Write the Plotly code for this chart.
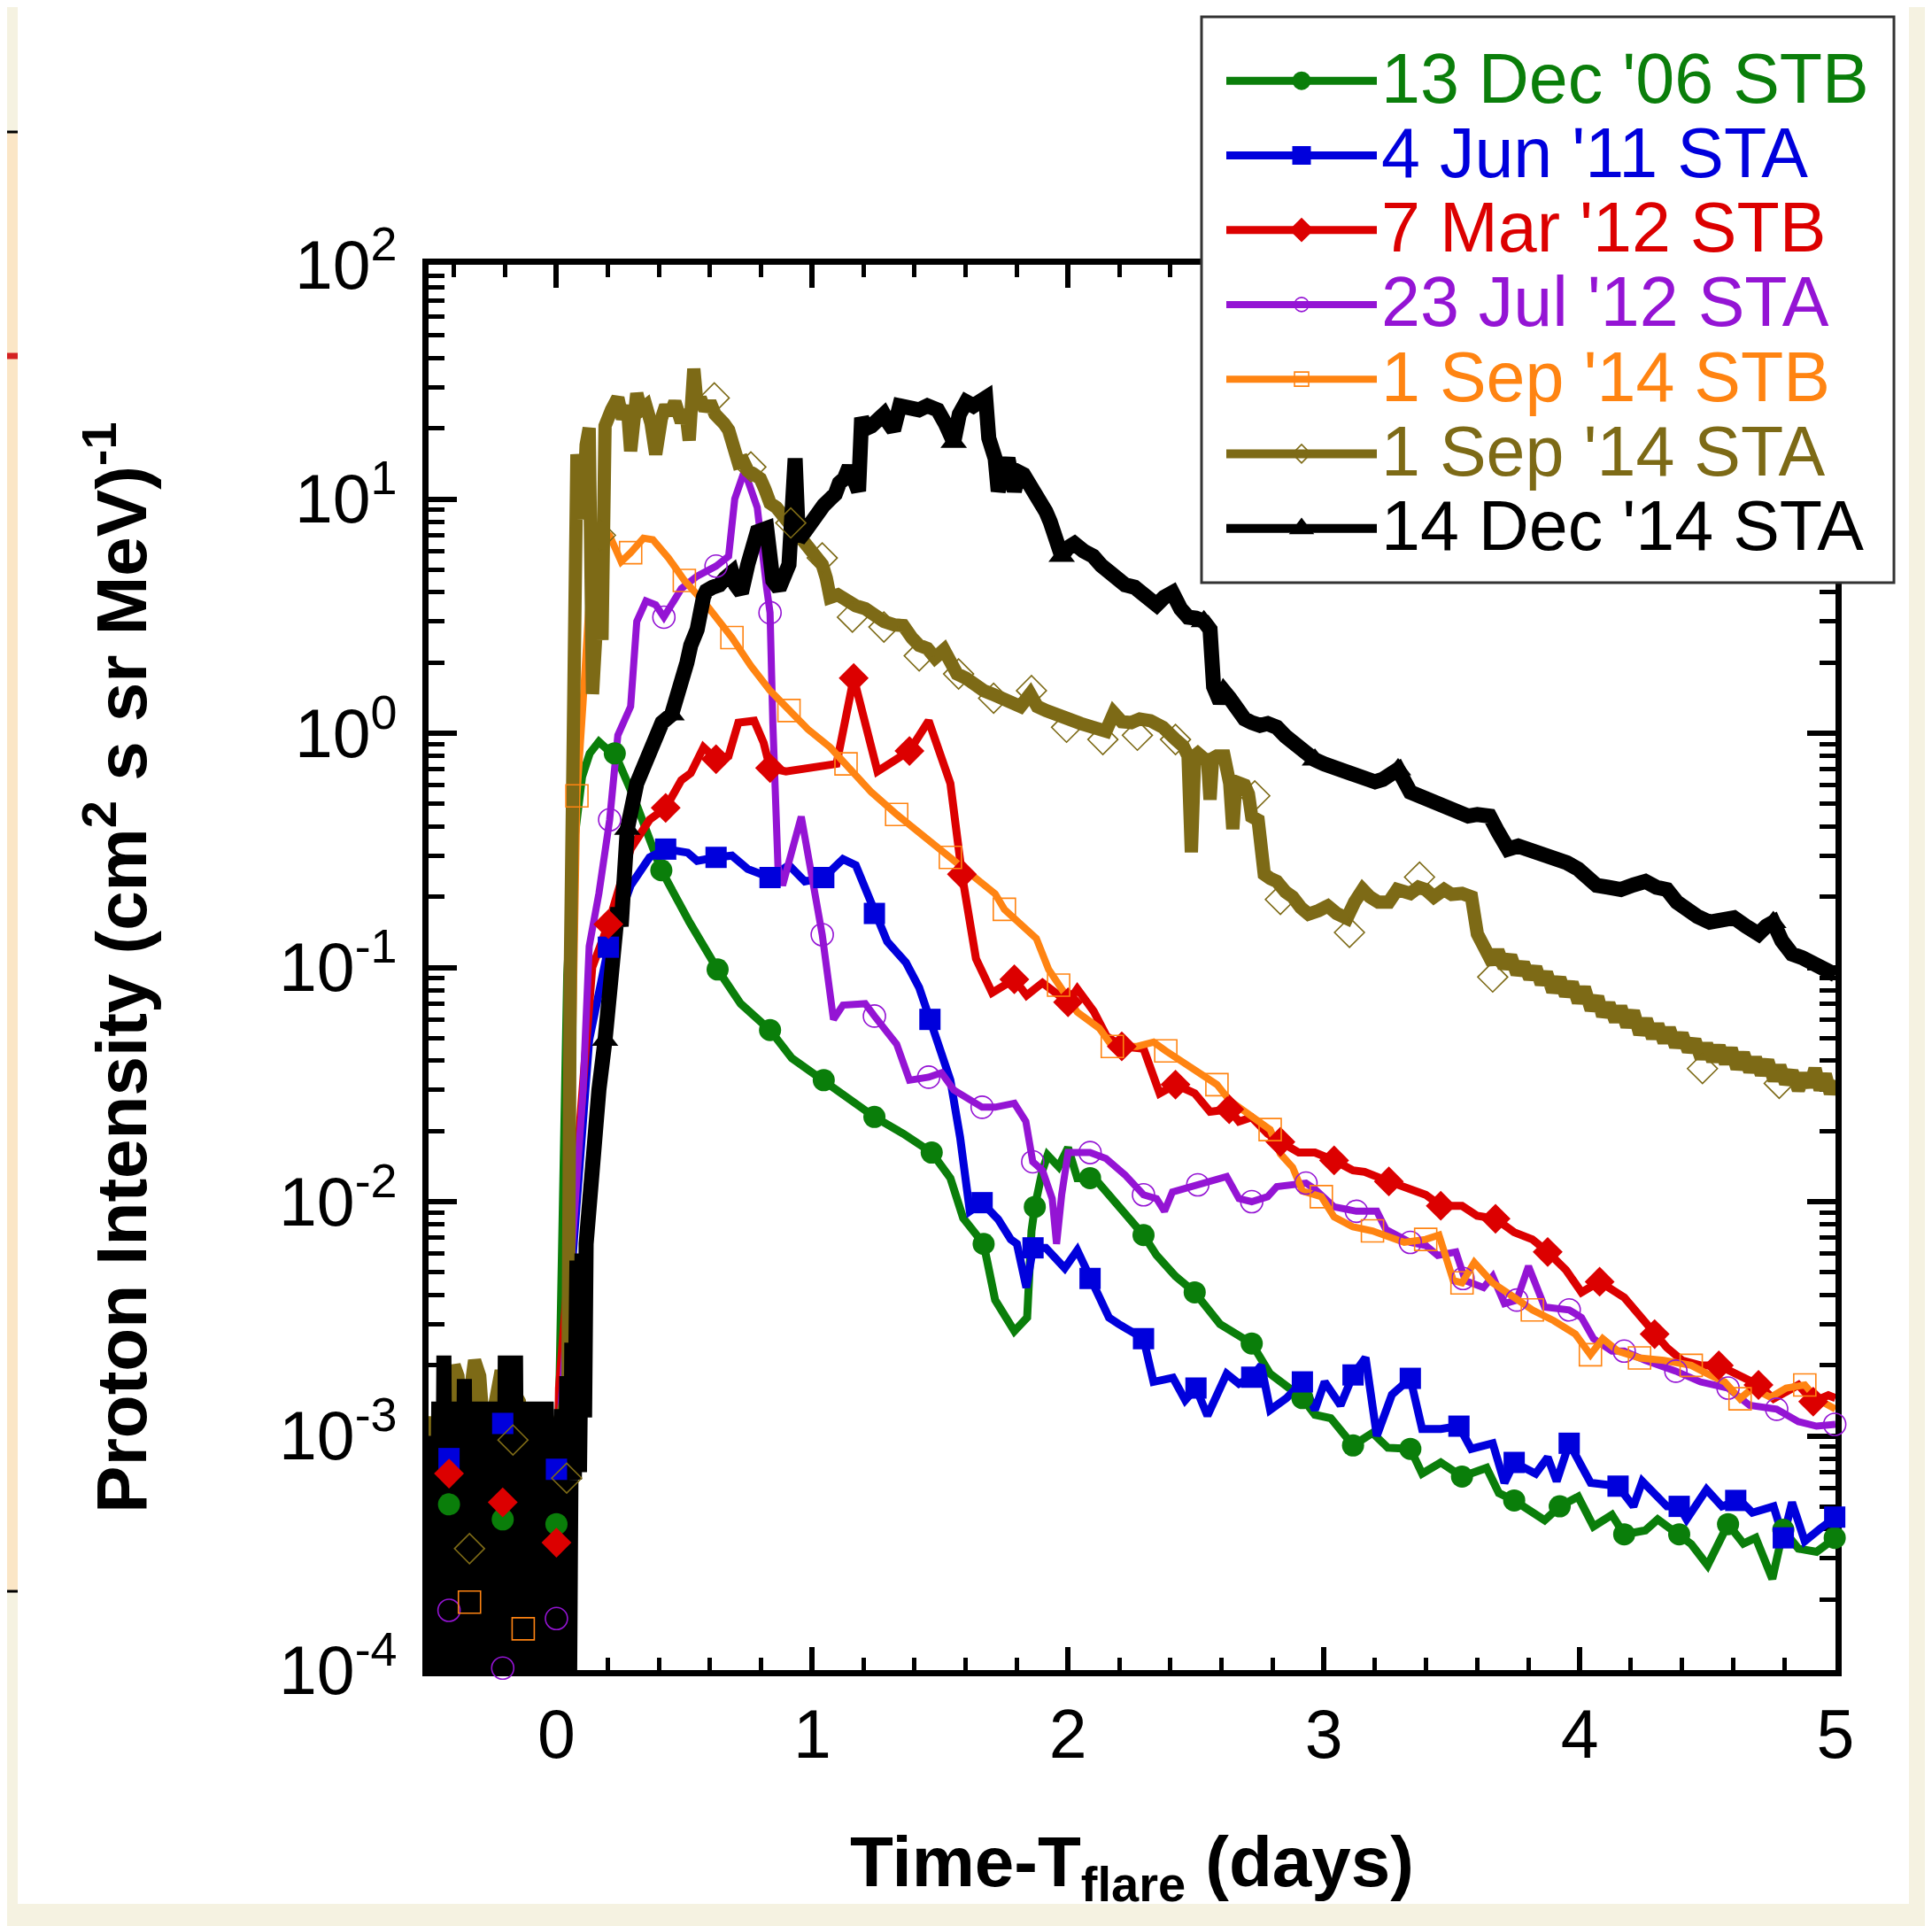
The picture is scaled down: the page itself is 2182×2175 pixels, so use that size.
import plotly.graph_objects as go

# ---------------- colours ----------------
GREEN = "#0a7e0a"
BLUE = "#0000dc"
RED = "#dc0000"
PURPLE = "#9414d4"
ORANGE = "#ff8412"
OLIVE = "#7d6a16"
BLACK = "#000000"

# ---------------- data (days since flare, proton intensity) ----------------
green_x = [-0.50, -0.42, -0.30, -0.21, -0.10, 0.00, 0.01, 0.042, 0.07, 0.10, 0.13, 0.166, 0.20, 0.228, 0.30, 0.364, 0.41, 0.52, 0.63, 0.72, 0.835, 0.92, 1.045, 1.15, 1.243, 1.356, 1.467, 1.54, 1.59, 1.67, 1.715, 1.79, 1.84, 1.857, 1.87, 1.90, 1.92, 1.963, 2.00, 2.036, 2.086, 2.12, 2.20, 2.295, 2.346, 2.42, 2.495, 2.545, 2.594, 2.718, 2.79, 2.916, 2.965, 3.027, 3.114, 3.19, 3.25, 3.338, 3.384, 3.457, 3.54, 3.636, 3.684, 3.744, 3.863, 3.922, 3.994, 4.054, 4.126, 4.174, 4.257, 4.305, 4.389, 4.436, 4.50, 4.58, 4.64, 4.688, 4.753, 4.796, 4.855, 4.926, 5.00]
green_y = [5.0e-4, 5.1e-4, 4.6e-4, 4.4e-4, 4.5e-4, 4.2e-4, 1.3e-3, 9.3e-2, 3.5e-1, 6.5e-1, 8.2e-1, 9.2e-1, 8.5e-1, 8.2e-1, 5.4e-1, 3.6e-1, 2.6e-1, 1.56e-1, 9.8e-2, 7.0e-2, 5.4e-2, 4.1e-2, 3.3e-2, 2.7e-2, 2.3e-2, 1.95e-2, 1.62e-2, 1.26e-2, 8.5e-3, 6.6e-3, 3.8e-3, 2.8e-3, 3.2e-3, 7.5e-3, 9.5e-3, 1.36e-2, 1.58e-2, 1.41e-2, 1.7e-2, 1.26e-2, 1.26e-2, 1.2e-2, 9.5e-3, 7.2e-3, 5.9e-3, 4.8e-3, 4.1e-3, 3.5e-3, 3.0e-3, 2.48e-3, 1.84e-3, 1.45e-3, 1.23e-3, 1.19e-3, 9.1e-4, 1.03e-3, 8.9e-4, 8.8e-4, 6.9e-4, 7.7e-4, 6.7e-4, 7.3e-4, 5.7e-4, 5.3e-4, 4.36e-4, 5.0e-4, 5.5e-4, 4.1e-4, 4.6e-4, 3.8e-4, 3.95e-4, 4.4e-4, 3.8e-4, 3.45e-4, 2.8e-4, 4.2e-4, 3.47e-4, 3.67e-4, 2.45e-4, 3.97e-4, 3.3e-4, 3.2e-4, 3.67e-4]
green_mx = [-0.42, -0.21, 0.0, 0.228, 0.41, 0.63, 0.835, 1.045, 1.243, 1.467, 1.67, 1.87, 2.086, 2.295, 2.495, 2.718, 2.916, 3.114, 3.338, 3.54, 3.744, 3.922, 4.174, 4.389, 4.58, 4.796, 4.997]
green_my = [5.1e-4, 4.4e-4, 4.2e-4, 8.2e-1, 2.6e-1, 9.8e-2, 5.4e-2, 3.3e-2, 2.3e-2, 1.62e-2, 6.6e-3, 9.5e-3, 1.26e-2, 7.2e-3, 4.1e-3, 2.48e-3, 1.45e-3, 9.1e-4, 8.8e-4, 6.7e-4, 5.3e-4, 5.0e-4, 3.8e-4, 3.8e-4, 4.2e-4, 3.97e-4, 3.67e-4]

blue_x = [-0.50, -0.42, -0.30, -0.21, -0.10, 0.00, 0.01, 0.128, 0.203, 0.29, 0.364, 0.427, 0.513, 0.55, 0.624, 0.686, 0.748, 0.835, 0.909, 0.971, 1.045, 1.12, 1.17, 1.243, 1.293, 1.366, 1.418, 1.46, 1.54, 1.578, 1.616, 1.664, 1.727, 1.776, 1.80, 1.837, 1.863, 1.913, 1.987, 2.036, 2.086, 2.16, 2.198, 2.295, 2.334, 2.41, 2.458, 2.50, 2.545, 2.62, 2.668, 2.718, 2.755, 2.79, 2.854, 2.916, 2.965, 3.003, 3.065, 3.114, 3.163, 3.207, 3.266, 3.338, 3.384, 3.457, 3.528, 3.576, 3.66, 3.706, 3.744, 3.828, 3.875, 3.91, 3.959, 4.043, 4.15, 4.21, 4.245, 4.341, 4.389, 4.418, 4.496, 4.556, 4.627, 4.675, 4.758, 4.796, 4.83, 4.88, 4.938, 5.00]
blue_y = [8.0e-4, 8.0e-4, 9.0e-4, 1.13e-3, 9.0e-4, 7.2e-4, 1.0e-3, 4.9e-2, 1.22e-1, 2.24e-1, 2.95e-1, 3.2e-1, 3.09e-1, 2.85e-1, 2.95e-1, 3.0e-1, 2.63e-1, 2.42e-1, 2.73e-1, 2.33e-1, 2.42e-1, 2.9e-1, 2.73e-1, 1.7e-1, 1.29e-1, 1.05e-1, 8.2e-2, 6.0e-2, 3.3e-2, 1.88e-2, 9.1e-3, 9.9e-3, 8.4e-3, 6.9e-3, 6.6e-3, 4.3e-3, 6.35e-3, 6.35e-3, 5.2e-3, 6.2e-3, 4.7e-3, 3.2e-3, 3.0e-3, 2.6e-3, 1.7e-3, 1.77e-3, 1.42e-3, 1.6e-3, 1.22e-3, 1.84e-3, 1.67e-3, 1.78e-3, 2.0e-3, 1.29e-3, 1.45e-3, 1.7e-3, 1.29e-3, 1.7e-3, 1.35e-3, 1.82e-3, 2.16e-3, 1.0e-3, 1.5e-3, 1.76e-3, 1.07e-3, 1.07e-3, 1.1e-3, 8.8e-4, 9.3e-4, 6.3e-4, 7.7e-4, 6.9e-4, 8.1e-4, 6.4e-4, 9.3e-4, 6.3e-4, 6.1e-4, 5.0e-4, 6.4e-4, 5.0e-4, 5.0e-4, 4.4e-4, 5.9e-4, 5.0e-4, 5.3e-4, 4.7e-4, 5.0e-4, 3.67e-4, 5.2e-4, 3.55e-4, 4.0e-4, 4.5e-4]
blue_mx = [-0.42, -0.21, 0.0, 0.203, 0.427, 0.624, 0.835, 1.045, 1.243, 1.46, 1.664, 1.863, 2.086, 2.295, 2.50, 2.718, 2.916, 3.114, 3.338, 3.528, 3.744, 3.959, 4.15, 4.389, 4.61, 4.796, 4.997]
blue_my = [8.0e-4, 1.13e-3, 7.2e-4, 1.22e-1, 3.2e-1, 2.95e-1, 2.42e-1, 2.42e-1, 1.7e-1, 6.0e-2, 9.9e-3, 6.35e-3, 4.7e-3, 2.6e-3, 1.6e-3, 1.78e-3, 1.7e-3, 1.82e-3, 1.76e-3, 1.1e-3, 7.7e-4, 9.3e-4, 6.1e-4, 5.0e-4, 5.3e-4, 3.67e-4, 4.5e-4]

red_x = [-0.50, -0.42, -0.30, -0.21, -0.10, 0.00, 0.01, 0.14, 0.203, 0.29, 0.364, 0.427, 0.488, 0.525, 0.575, 0.624, 0.673, 0.711, 0.773, 0.81, 0.835, 0.897, 1.095, 1.162, 1.255, 1.38, 1.455, 1.54, 1.585, 1.64, 1.703, 1.79, 1.838, 1.90, 2.00, 2.036, 2.10, 2.15, 2.21, 2.295, 2.358, 2.42, 2.495, 2.555, 2.63, 2.668, 2.718, 2.78, 2.83, 2.902, 2.965, 3.04, 3.114, 3.159, 3.254, 3.325, 3.398, 3.457, 3.54, 3.599, 3.671, 3.744, 3.815, 3.875, 3.947, 4.007, 4.078, 4.174, 4.234, 4.293, 4.341, 4.40, 4.472, 4.544, 4.627, 4.699, 4.758, 4.855, 4.913, 4.972, 5.00]
red_y = [6.0e-4, 6.9e-4, 6.0e-4, 5.2e-4, 4.5e-4, 3.5e-4, 1.6e-3, 1.0e-1, 1.53e-1, 3.2e-1, 4.27e-1, 4.8e-1, 6.3e-1, 6.75e-1, 8.7e-1, 7.75e-1, 8.0e-1, 1.11, 1.13, 9.1e-1, 7.1e-1, 6.87e-1, 7.4e-1, 1.72, 6.87e-1, 8.4e-1, 1.13, 6.1e-1, 2.5e-1, 1.09e-1, 7.8e-2, 8.9e-2, 7.6e-2, 8.6e-2, 7.1e-2, 8.1e-2, 6.5e-2, 5.1e-2, 4.6e-2, 4.5e-2, 2.9e-2, 3.16e-2, 2.9e-2, 2.42e-2, 2.48e-2, 2.2e-2, 2.29e-2, 1.95e-2, 1.8e-2, 1.62e-2, 1.62e-2, 1.5e-2, 1.36e-2, 1.34e-2, 1.22e-2, 1.14e-2, 1.07e-2, 9.6e-3, 9.6e-3, 8.7e-3, 8.45e-3, 7.4e-3, 6.9e-3, 6.1e-3, 5.1e-3, 4.1e-3, 4.55e-3, 3.9e-3, 3.3e-3, 2.72e-3, 2.38e-3, 2.1e-3, 2.0e-3, 2.0e-3, 1.82e-3, 1.65e-3, 1.44e-3, 1.65e-3, 1.4e-3, 1.49e-3, 1.45e-3]
red_mx = [-0.42, -0.21, 0.0, 0.203, 0.427, 0.624, 0.835, 1.162, 1.38, 1.585, 1.79, 2.0, 2.21, 2.42, 2.63, 2.83, 3.04, 3.254, 3.457, 3.671, 3.875, 4.078, 4.293, 4.544, 4.699, 4.913]
red_my = [6.9e-4, 5.2e-4, 3.5e-4, 1.53e-1, 4.8e-1, 7.75e-1, 7.1e-1, 1.72, 8.4e-1, 2.5e-1, 8.9e-2, 7.1e-2, 4.6e-2, 3.16e-2, 2.48e-2, 1.8e-2, 1.5e-2, 1.22e-2, 9.6e-3, 8.45e-3, 6.1e-3, 4.55e-3, 2.72e-3, 2.0e-3, 1.65e-3, 1.4e-3]

purple_x = [-0.50, -0.42, -0.30, -0.21, -0.10, 0.00, 0.01, 0.104, 0.128, 0.166, 0.208, 0.24, 0.29, 0.314, 0.35, 0.388, 0.42, 0.488, 0.55, 0.624, 0.673, 0.697, 0.735, 0.785, 0.822, 0.835, 0.846, 0.866, 0.884, 0.957, 1.039, 1.083, 1.12, 1.207, 1.243, 1.33, 1.38, 1.455, 1.505, 1.553, 1.664, 1.715, 1.79, 1.835, 1.862, 1.90, 1.938, 1.955, 1.975, 2.00, 2.086, 2.148, 2.223, 2.295, 2.346, 2.377, 2.408, 2.507, 2.62, 2.668, 2.718, 2.78, 2.816, 2.93, 2.965, 3.04, 3.127, 3.207, 3.243, 3.338, 3.398, 3.445, 3.516, 3.553, 3.624, 3.66, 3.706, 3.754, 3.80, 3.863, 3.959, 4.007, 4.054, 4.126, 4.174, 4.257, 4.376, 4.472, 4.58, 4.664, 4.77, 4.855, 4.926, 5.00]
purple_y = [1.5e-4, 1.8e-4, 1.3e-4, 1.02e-4, 1.4e-4, 1.66e-4, 1.0e-3, 3.0e-2, 1.23e-1, 2.07e-1, 4.27e-1, 9.8e-1, 1.3, 3.0, 3.67, 3.53, 3.13, 4.14, 4.68, 5.17, 5.7, 10.0, 13.2, 9.2, 4.14, 3.27, 1.1, 2.7e-1, 2.24e-1, 4.4e-1, 1.38e-1, 6.0e-2, 6.9e-2, 7.0e-2, 6.2e-2, 4.7e-2, 3.3e-2, 3.4e-2, 3.55e-2, 3.0e-2, 2.53e-2, 2.53e-2, 2.63e-2, 2.2e-2, 1.48e-2, 1.36e-2, 1.03e-2, 6.6e-3, 1.07e-2, 1.62e-2, 1.62e-2, 1.53e-2, 1.3e-2, 1.07e-2, 1.03e-2, 9.1e-3, 1.1e-2, 1.18e-2, 1.28e-2, 1.03e-2, 1.0e-2, 1.05e-2, 1.16e-2, 1.2e-2, 1.13e-2, 9.5e-3, 9.1e-3, 9.1e-3, 7.6e-3, 6.7e-3, 6.5e-3, 5.9e-3, 6.1e-3, 4.6e-3, 4.3e-3, 4.8e-3, 3.67e-3, 3.8e-3, 5.3e-3, 3.55e-3, 3.45e-3, 3.2e-3, 2.6e-3, 2.3e-3, 2.3e-3, 2.1e-3, 1.89e-3, 1.7e-3, 1.6e-3, 1.35e-3, 1.3e-3, 1.15e-3, 1.1e-3, 1.12e-3]
purple_mx = [-0.42, -0.21, 0.0, 0.208, 0.42, 0.624, 0.835, 1.039, 1.243, 1.455, 1.664, 1.862, 2.086, 2.295, 2.507, 2.718, 2.93, 3.127, 3.338, 3.544, 3.754, 3.959, 4.174, 4.376, 4.58, 4.77, 4.997]
purple_my = [1.8e-4, 1.02e-4, 1.66e-4, 4.27e-1, 3.13, 5.17, 3.27, 1.38e-1, 6.2e-2, 3.4e-2, 2.53e-2, 1.48e-2, 1.62e-2, 1.07e-2, 1.18e-2, 1.0e-2, 1.2e-2, 9.1e-3, 6.7e-3, 4.7e-3, 3.8e-3, 3.45e-3, 2.3e-3, 1.89e-3, 1.6e-3, 1.3e-3, 1.12e-3]

orange_x = [-0.50, -0.42, -0.34, -0.25, -0.13, -0.05, 0.00, 0.04, 0.08, 0.104, 0.128, 0.16, 0.19, 0.208, 0.253, 0.29, 0.34, 0.377, 0.438, 0.50, 0.586, 0.686, 0.76, 0.835, 0.909, 0.983, 1.07, 1.132, 1.231, 1.33, 1.418, 1.54, 1.628, 1.715, 1.751, 1.876, 1.924, 1.963, 2.036, 2.122, 2.173, 2.27, 2.334, 2.382, 2.469, 2.53, 2.582, 2.632, 2.705, 2.79, 2.83, 2.878, 2.916, 2.99, 3.04, 3.114, 3.19, 3.23, 3.314, 3.398, 3.45, 3.506, 3.54, 3.588, 3.66, 3.744, 3.815, 3.899, 3.983, 4.042, 4.09, 4.15, 4.234, 4.329, 4.436, 4.508, 4.567, 4.627, 4.675, 4.746, 4.807, 4.88, 4.926, 5.00]
orange_y = [1.8e-4, 2.2e-4, 1.95e-4, 1.7e-4, 1.5e-4, 1.8e-4, 2.0e-4, 1.7e-3, 5.4e-1, 1.35, 3.68, 6.2, 7.2, 6.97, 5.4, 5.9, 6.8, 6.7, 5.6, 4.49, 3.53, 2.56, 1.94, 1.52, 1.25, 1.04, 8.7e-1, 7.4e-1, 5.6e-1, 4.5e-1, 3.77e-1, 2.95e-1, 2.5e-1, 2.06e-1, 1.77e-1, 1.33e-1, 9.8e-2, 8.4e-2, 6.45e-2, 5.5e-2, 4.6e-2, 4.6e-2, 4.8e-2, 4.4e-2, 3.8e-2, 3.4e-2, 3.16e-2, 2.7e-2, 2.38e-2, 2.03e-2, 1.6e-2, 1.4e-2, 1.11e-2, 1.05e-2, 8.6e-3, 7.8e-3, 7.5e-3, 7.2e-3, 6.7e-3, 6.9e-3, 7.2e-3, 4.6e-3, 4.5e-3, 5.5e-3, 4.5e-3, 3.9e-3, 3.45e-3, 3.1e-3, 2.72e-3, 2.22e-3, 2.6e-3, 2.3e-3, 2.15e-3, 2.1e-3, 2.0e-3, 1.82e-3, 1.7e-3, 1.44e-3, 1.6e-3, 1.46e-3, 1.6e-3, 1.65e-3, 1.44e-3, 1.3e-3]
orange_mx = [-0.34, -0.13, 0.08, 0.29, 0.50, 0.686, 0.909, 1.132, 1.33, 1.54, 1.751, 1.963, 2.173, 2.382, 2.582, 2.79, 2.99, 3.19, 3.398, 3.54, 3.815, 4.042, 4.234, 4.436, 4.627, 4.88]
orange_my = [1.95e-4, 1.5e-4, 5.4e-1, 5.9, 4.49, 2.56, 1.25, 7.4e-1, 4.5e-1, 2.95e-1, 1.77e-1, 8.4e-2, 4.6e-2, 4.4e-2, 3.16e-2, 2.03e-2, 1.05e-2, 7.5e-3, 6.9e-3, 4.5e-3, 3.45e-3, 2.22e-3, 2.15e-3, 2.0e-3, 1.44e-3, 1.65e-3]

olive_x = [-0.50, -0.48, -0.46, -0.44, -0.42, -0.40, -0.385, -0.37, -0.35, -0.32, -0.30, -0.28, -0.25, -0.22, -0.20, -0.18, -0.16, -0.145, -0.13, -0.10, -0.06, -0.03, 0.00, 0.03, 0.045, 0.054, 0.066, 0.08, 0.092, 0.104, 0.116, 0.128, 0.141, 0.153, 0.166, 0.178, 0.19, 0.215, 0.24, 0.258, 0.277, 0.29, 0.314, 0.33, 0.35, 0.37, 0.388, 0.41, 0.427, 0.445, 0.463, 0.488, 0.505, 0.519, 0.537, 0.55, 0.562, 0.58, 0.60, 0.62, 0.637, 0.655, 0.673, 0.69, 0.711, 0.73, 0.748, 0.77, 0.797, 0.815, 0.835, 0.86, 0.884, 0.91, 0.933, 0.96, 0.983, 1.01, 1.039, 1.055, 1.07, 1.10, 1.132, 1.17, 1.207, 1.24, 1.28, 1.32, 1.356, 1.39, 1.418, 1.45, 1.48, 1.515, 1.54, 1.566, 1.60, 1.64, 1.67, 1.703, 1.735, 1.765, 1.79, 1.814, 1.852, 1.88, 1.913, 1.95, 2.00, 2.05, 2.098, 2.148, 2.179, 2.21, 2.247, 2.28, 2.322, 2.371, 2.42, 2.45, 2.469, 2.482, 2.495, 2.507, 2.53, 2.545, 2.555, 2.565, 2.582, 2.61, 2.632, 2.644, 2.656, 2.668, 2.69, 2.705, 2.718, 2.743, 2.767, 2.79, 2.816, 2.85, 2.878, 2.91, 2.94, 2.98, 3.015, 3.05, 3.09, 3.12, 3.152, 3.18, 3.213, 3.254, 3.287, 3.338, 3.37, 3.398, 3.43, 3.47, 3.50, 3.54, 3.577, 3.60, 3.636, 3.66, 3.68, 3.705, 3.73, 3.755, 3.78, 3.805, 3.828, 3.85, 3.87, 3.895, 3.922, 3.945, 3.97, 3.995, 4.018, 4.045, 4.07, 4.09, 4.114, 4.14, 4.16, 4.185, 4.21, 4.235, 4.26, 4.285, 4.305, 4.33, 4.35, 4.375, 4.40, 4.425, 4.45, 4.475, 4.496, 4.52, 4.545, 4.57, 4.592, 4.615, 4.64, 4.665, 4.687, 4.71, 4.735, 4.76, 4.782, 4.805, 4.83, 4.855, 4.879, 4.90, 4.92, 4.94, 4.96, 4.98, 5.00]
olive_y = [9e-4, 1.2e-3, 8e-4, 1.3e-3, 1.0e-3, 2.0e-3, 1.8e-3, 1.0e-3, 1.2e-3, 2.1e-3, 1.8e-3, 9e-4, 1.2e-3, 1.8e-3, 1.8e-3, 1.0e-3, 1.5e-3, 1.4e-3, 1.0e-3, 1.1e-3, 9e-4, 1.0e-3, 1.1e-3, 1.3e-3, 1.6e-3, 9.3e-2, 2.0, 15.5, 12.0, 8.2, 17.0, 20.1, 1.47, 3.5, 4.5, 2.5, 20.5, 24.0, 27.0, 22.0, 25.0, 16.0, 28.2, 24.0, 25.0, 21.0, 15.5, 22.0, 25.0, 23.0, 26.0, 21.3, 24.0, 17.8, 36.0, 25.0, 27.0, 24.0, 26.0, 23.0, 22.2, 21.0, 19.7, 17.0, 14.3, 14.5, 13.2, 12.8, 12.2, 11.0, 9.6, 9.2, 8.5, 7.9, 7.25, 6.8, 6.2, 5.8, 5.25, 4.6, 3.8, 3.9, 3.67, 3.5, 3.4, 3.2, 3.0, 2.9, 2.88, 2.55, 2.37, 2.3, 2.1, 2.27, 1.95, 1.79, 1.72, 1.58, 1.52, 1.47, 1.42, 1.36, 1.33, 1.3, 1.47, 1.3, 1.25, 1.2, 1.15, 1.1, 1.06, 1.02, 1.22, 1.12, 1.11, 1.15, 1.13, 1.06, 0.94, 0.88, 0.80, 0.31, 0.80, 0.82, 0.78, 0.77, 0.52, 0.78, 0.80, 0.80, 0.61, 0.39, 0.62, 0.61, 0.60, 0.55, 0.44, 0.425, 0.25, 0.24, 0.233, 0.21, 0.20, 0.18, 0.169, 0.175, 0.183, 0.17, 0.162, 0.19, 0.215, 0.20, 0.19, 0.19, 0.215, 0.207, 0.22, 0.215, 0.20, 0.215, 0.205, 0.207, 0.20, 0.139, 0.120, 0.104, 0.118, 0.100, 0.112, 0.094, 0.104, 0.090, 0.100, 0.085, 0.095, 0.079, 0.090, 0.076, 0.086, 0.071, 0.082, 0.066, 0.075, 0.062, 0.070, 0.059, 0.068, 0.056, 0.065, 0.052, 0.060, 0.050, 0.057, 0.048, 0.055, 0.046, 0.052, 0.044, 0.049, 0.041, 0.047, 0.040, 0.046, 0.039, 0.045, 0.037, 0.043, 0.036, 0.041, 0.035, 0.040, 0.033, 0.038, 0.032, 0.036, 0.030, 0.035, 0.031, 0.037, 0.030, 0.035, 0.029, 0.033]
olive_mx = [-0.34, -0.17, 0.04, 0.172, 0.617, 0.76, 0.916, 1.039, 1.157, 1.28, 1.418, 1.572, 1.709, 1.857, 1.994, 2.136, 2.271, 2.42, 2.73, 2.83, 3.10, 3.374, 3.66, 4.48, 4.78]
olive_my = [3.3e-4, 9.6e-4, 6.6e-4, 7.0, 27.0, 13.7, 7.9, 5.6, 3.13, 2.84, 2.14, 1.79, 1.41, 1.52, 1.06, 0.94, 0.98, 0.94, 0.54, 0.195, 0.141, 0.243, 0.091, 0.037, 0.032]

black_x = [-0.50, -0.49, -0.48, -0.47, -0.46, -0.45, -0.44, -0.43, -0.42, -0.41, -0.40, -0.39, -0.38, -0.37, -0.36, -0.35, -0.34, -0.33, -0.32, -0.31, -0.30, -0.29, -0.28, -0.27, -0.26, -0.25, -0.24, -0.23, -0.22, -0.21, -0.20, -0.19, -0.18, -0.17, -0.16, -0.15, -0.14, -0.13, -0.12, -0.11, -0.10, -0.09, -0.08, -0.07, -0.06, -0.05, -0.04, -0.03, -0.02, -0.01, 0.00, 0.01, 0.02, 0.03, 0.04, 0.05, 0.06, 0.07, 0.08, 0.09, 0.10, 0.11, 0.116, 0.13, 0.141, 0.155, 0.166, 0.19, 0.215, 0.24, 0.253, 0.277, 0.314, 0.34, 0.364, 0.39, 0.413, 0.45, 0.47, 0.488, 0.51, 0.525, 0.55, 0.575, 0.586, 0.61, 0.637, 0.66, 0.686, 0.70, 0.723, 0.748, 0.765, 0.785, 0.822, 0.846, 0.87, 0.909, 0.933, 0.946, 0.971, 1.00, 1.02, 1.045, 1.07, 1.09, 1.106, 1.125, 1.144, 1.165, 1.181, 1.193, 1.21, 1.231, 1.255, 1.28, 1.30, 1.318, 1.342, 1.38, 1.417, 1.45, 1.49, 1.52, 1.553, 1.575, 1.602, 1.63, 1.653, 1.678, 1.69, 1.715, 1.727, 1.745, 1.765, 1.79, 1.808, 1.826, 1.85, 1.876, 1.90, 1.913, 1.93, 1.95, 1.975, 2.00, 2.025, 2.06, 2.098, 2.13, 2.16, 2.19, 2.223, 2.26, 2.295, 2.32, 2.346, 2.375, 2.408, 2.44, 2.469, 2.50, 2.531, 2.555, 2.569, 2.594, 2.612, 2.632, 2.65, 2.668, 2.69, 2.718, 2.75, 2.78, 2.816, 2.85, 2.878, 2.92, 2.965, 3.00, 3.04, 3.08, 3.114, 3.15, 3.20, 3.23, 3.26, 3.29, 3.338, 3.38, 3.422, 3.46, 3.493, 3.53, 3.564, 3.60, 3.648, 3.68, 3.72, 3.76, 3.804, 3.85, 3.899, 3.95, 3.994, 4.03, 4.066, 4.11, 4.161, 4.21, 4.257, 4.30, 4.341, 4.38, 4.413, 4.46, 4.508, 4.55, 4.603, 4.65, 4.699, 4.73, 4.757, 4.79, 4.83, 4.87, 4.902, 4.94, 4.972, 5.00]
black_y = [1.0e-3, 5e-5, 1.0e-3, 5e-5, 1.4e-3, 5e-5, 2.2e-3, 5e-5, 1.4e-3, 5e-5, 1.4e-3, 5e-5, 1.4e-3, 5e-5, 1.75e-3, 5e-5, 1.4e-3, 5e-5, 1.4e-3, 5e-5, 1.4e-3, 5e-5, 1.4e-3, 5e-5, 1.4e-3, 5e-5, 1.4e-3, 5e-5, 1.4e-3, 5e-5, 2.2e-3, 5e-5, 1.4e-3, 5e-5, 2.2e-3, 5e-5, 1.4e-3, 5e-5, 1.4e-3, 5e-5, 1.1e-3, 5e-5, 1.4e-3, 5e-5, 1.1e-3, 5e-5, 1.4e-3, 5e-5, 1.2e-3, 5e-5, 1.1e-3, 5e-5, 1.3e-3, 5e-5, 1.8e-3, 5e-5, 2.5e-3, 6.5e-4, 5.6e-3, 7.0e-4, 6.0e-3, 1.2e-3, 6.6e-3, 1.2e-2, 1.74e-2, 2.2e-2, 3.0e-2, 4.9e-2, 8.2e-2, 1.8e-1, 1.5e-1, 3.9e-1, 6.1e-1, 7.0e-1, 8.0e-1, 9.5e-1, 1.11, 1.2, 1.4, 1.58, 2.0, 2.37, 2.77, 3.82, 4.05, 4.2, 4.3, 4.6, 4.86, 4.3, 3.98, 5.25, 6.5, 7.25, 7.5, 4.49, 4.14, 5.25, 14.9, 6.7, 7.25, 8.2, 8.85, 9.4, 10.0, 10.5, 11.7, 12.2, 13.7, 11.5, 10.8, 22.2, 20.0, 20.5, 22.0, 23.0, 21.0, 19.7, 25.0, 24.0, 24.0, 25.0, 24.0, 21.0, 17.5, 23.0, 26.0, 25.0, 26.0, 27.0, 18.2, 14.9, 10.8, 13.0, 14.9, 10.8, 13.0, 12.7, 11.5, 10.8, 9.5, 8.85, 8.0, 6.97, 5.7, 6.2, 6.45, 6.0, 5.7, 5.2, 4.86, 4.6, 4.3, 4.2, 3.98, 3.7, 3.53, 3.8, 3.98, 3.4, 3.13, 3.1, 3.0, 2.77, 1.58, 1.36, 1.5, 1.41, 1.3, 1.2, 1.15, 1.11, 1.08, 1.1, 1.06, 0.97, 0.91, 0.84, 0.77, 0.74, 0.71, 0.68, 0.66, 0.63, 0.62, 0.635, 0.67, 0.70, 0.56, 0.54, 0.52, 0.50, 0.48, 0.46, 0.443, 0.45, 0.443, 0.38, 0.32, 0.33, 0.32, 0.31, 0.297, 0.28, 0.263, 0.24, 0.224, 0.22, 0.215, 0.225, 0.233, 0.22, 0.215, 0.19, 0.177, 0.165, 0.156, 0.16, 0.163, 0.15, 0.139, 0.15, 0.156, 0.13, 0.114, 0.11, 0.105, 0.10, 0.097, 0.093]
black_mx = [0.19, 0.277, 0.45, 1.553, 1.975, 2.531, 2.965, 3.29, 4.757]
black_my = [4.9e-2, 3.9e-1, 1.2, 17.5, 5.7, 3.0, 0.77, 0.70, 0.156]

series = [
    ("13 Dec '06 STB", GREEN, green_x, green_y, green_mx, green_my, "circle", 25, 9),
    ("4 Jun '11 STA", BLUE, blue_x, blue_y, blue_mx, blue_my, "square", 24, 9),
    ("7 Mar '12 STB", RED, red_x, red_y, red_mx, red_my, "diamond", 26, 9),
    ("23 Jul '12 STA", PURPLE, purple_x, purple_y, purple_mx, purple_my, "circle-open", 25, 8),
    ("1 Sep '14 STB", ORANGE, orange_x, orange_y, orange_mx, orange_my, "square-open", 25, 8),
    ("1 Sep '14 STA", OLIVE, olive_x, olive_y, olive_mx, olive_my, "diamond-open", 26, 15),
    ("14 Dec '14 STA", BLACK, black_x, black_y, black_mx, black_my, "triangle-up", 26, 17),
]
for s in series:
    assert len(s[2]) == len(s[3]), (s[0], len(s[2]), len(s[3]))
    assert len(s[4]) == len(s[5]), (s[0], len(s[4]), len(s[5]))

fig = go.Figure()

# lines first (in legend order, later ones on top)
for name, col, x, y, mx, my, sym, ms, lw in series:
    fig.add_trace(go.Scatter(x=x, y=y, mode="lines", line=dict(color=col, width=lw),
                             showlegend=False, hoverinfo="skip"))

# markers above every line
for name, col, x, y, mx, my, sym, ms, lw in series:
    is_open = sym.endswith("open")
    fig.add_trace(go.Scatter(x=mx, y=my, mode="markers", cliponaxis=False,
                             marker=dict(symbol=sym, size=ms, color=col,
                                         line=dict(color=col, width=1.6 if is_open else 0)),
                             showlegend=False, hoverinfo="skip"))

# legend entries
for name, col, x, y, mx, my, sym, ms, lw in series:
    is_open = sym.endswith("open")
    fig.add_trace(go.Scatter(x=[None], y=[None], mode="lines+markers",
                             name=f'<span style="color:{col};font-size:79px">{name}</span>',
                             line=dict(color=col, width=min(lw, 10)),
                             marker=dict(symbol=sym, size=16, color=col,
                                         line=dict(color=col, width=1.6 if is_open else 5))))

FONT = "Liberation Sans, Arial, sans-serif"
# page offset of 8 px (default body margin) is compensated in the margins
OFF = 8
PL, PT = 484, 299            # plot area left / top on the page
PW, PH = 1589, 1587          # plot area size
W, H = 2182 - OFF, 2175 - OFF
L, T = PL - OFF, PT - OFF
R, B = W - L - PW, H - T - PH


def px(X):
    return (X - PL) / PW


def py(Y):
    return (PT + PH - Y) / PH


shapes = [
    dict(type="rect", xref="paper", yref="paper", x0=px(20), x1=px(2156), y0=py(2150), y1=py(4),
         fillcolor="white", line=dict(width=0), layer="below"),
    dict(type="rect", xref="paper", yref="paper", x0=px(0), x1=px(20), y0=py(1797), y1=py(149),
         fillcolor="#fbe6c6", line=dict(width=0), layer="below"),
    dict(type="line", xref="paper", yref="paper", x0=px(0), x1=px(20), y0=py(149), y1=py(149),
         line=dict(color="black", width=3), layer="below"),
    dict(type="line", xref="paper", yref="paper", x0=px(0), x1=px(20), y0=py(1797), y1=py(1797),
         line=dict(color="black", width=3), layer="below"),
    dict(type="line", xref="paper", yref="paper", x0=px(0), x1=px(20), y0=py(402), y1=py(402),
         line=dict(color="#d42222", width=7), layer="below"),
    # legend frame
    dict(type="rect", xref="paper", yref="paper", x0=px(1357), x1=px(2139), y0=py(658), y1=py(19),
         fillcolor="white", line=dict(color="#333333", width=3), layer="above"),
]

fig.update_layout(
    width=W, height=H,
    margin=dict(l=L, r=R, t=T, b=B, pad=0, autoexpand=False),
    paper_bgcolor="#f5f2e1",
    plot_bgcolor="white",
    font=dict(family=FONT, size=76, color="black"),
    shapes=shapes,
    showlegend=True,
    legend=dict(x=px(1380), y=py(44), xanchor="left", yanchor="top",
                bgcolor="rgba(0,0,0,0)", borderwidth=0,
                font=dict(family=FONT, size=62.5), itemwidth=170,
                tracegroupgap=0, traceorder="normal"),
)

x_minor = [v / 10 for v in range(-4, 50, 2) if v % 10 != 0]
fig.update_xaxes(
    range=[-0.5, 5], tickmode="array", tickvals=[0, 1, 2, 3, 4, 5],
    ticks="inside", ticklen=26, tickwidth=6, tickcolor="black",
    showline=True, linewidth=7, linecolor="black", mirror="ticks",
    showgrid=False, zeroline=False, layer="below traces",
    tickfont=dict(family=FONT, size=77, color="black"),
    minor=dict(tickmode="array", tickvals=x_minor, ticks="inside", ticklen=14,
               tickwidth=5, tickcolor="black", showgrid=False),
    title=dict(text="<b>Time-T<sub>flare</sub> (days)</b>", font=dict(family=FONT, size=80),
               standoff=76),
    automargin=False,
)

y_major = [1e-4, 1e-3, 1e-2, 1e-1, 1e0, 1e1, 1e2]
y_text = ["10<sup>-4</sup>", "10<sup>-3</sup>", "10<sup>-2</sup>", "10<sup>-1</sup>",
          "10<sup>0</sup>", "10<sup>1</sup>", "10<sup>2</sup>"]
y_minor = [m * 10.0 ** e for e in range(-4, 2) for m in range(2, 10)]
fig.update_yaxes(
    type="log", range=[-4, 2], tickmode="array", tickvals=y_major, ticktext=y_text,
    ticks="inside", ticklen=32, tickwidth=6, tickcolor="black",
    showline=True, linewidth=7, linecolor="black", mirror="ticks",
    showgrid=False, zeroline=False, layer="below traces",
    tickfont=dict(family=FONT, size=77, color="black"), ticklabelstandoff=13,
    minor=dict(tickmode="array", tickvals=y_minor, ticks="inside", ticklen=18,
               tickwidth=5, tickcolor="black", showgrid=False),
    title=dict(text="<b>Proton Intensity (cm<sup>2</sup> s sr MeV)<sup>-1</sup></b>",
               font=dict(family=FONT, size=80), standoff=126),
    automargin=False,
)

fig.write_html("out.html")
